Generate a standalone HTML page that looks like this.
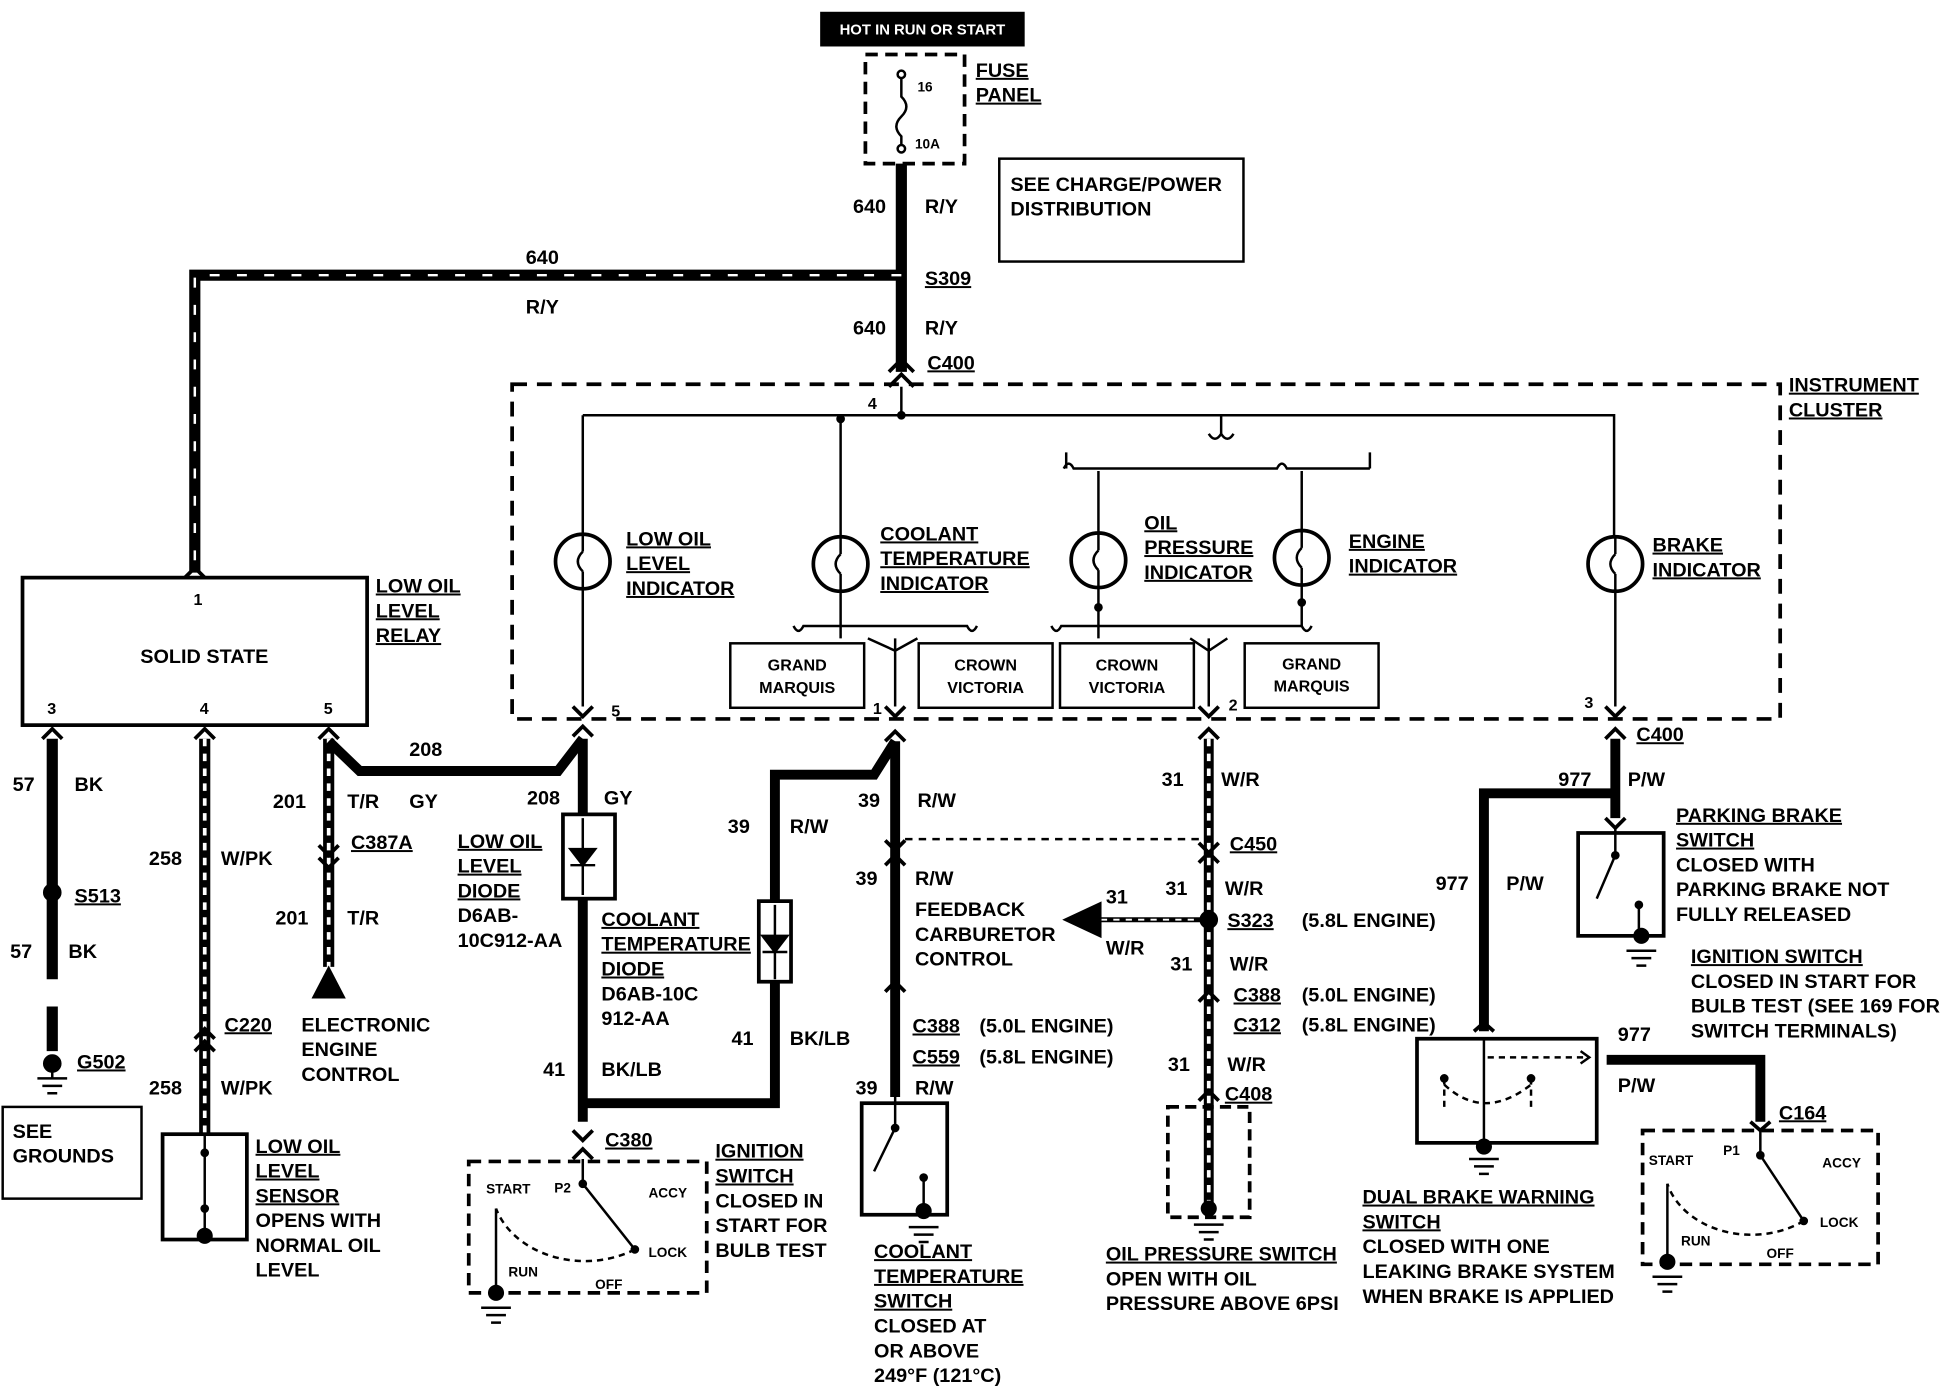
<!DOCTYPE html>
<html><head><meta charset="utf-8"><style>
html,body{margin:0;padding:0;background:#fff}
svg{display:block}
text{font-family:"Liberation Sans",sans-serif;font-weight:bold;font-size:16px;fill:#000}
.u{text-decoration:underline}
.s{font-size:13px}
.t{font-size:11px}
</style></head><body>
<svg width="1944" height="1392" viewBox="0 0 1568 1123" xmlns="http://www.w3.org/2000/svg">
<g fill="none" stroke="#000">
<rect x="662" y="10" width="164" height="27" fill="#000"/>
<rect x="698" y="44" width="80" height="88" stroke-width="3" stroke-dasharray="10,6"/>
<path d="M727 60 V78 q8 8 0 16 q-8 8 0 16 V120" stroke-width="2"/>
<circle cx="727" cy="60" r="3" fill="#fff" stroke-width="2"/>
<circle cx="727" cy="120" r="3" fill="#fff" stroke-width="2"/>
<rect x="806" y="128" width="197" height="83" stroke-width="2"/>
<path d="M727 132 V300" stroke-width="9"/>
<path d="M727 222 H157 V462" stroke-width="9"/>
<path d="M727 222 H157 V462" stroke="#fff" stroke-width="2" stroke-dasharray="8,14"/>
<path d="M717 300 L727 290 L737 300" stroke-width="3"/>
<path d="M717 312 L727 302 L737 312" stroke-width="3"/>
<path d="M727 312 V335" stroke-width="2"/>
<path d="M149 466 L157 458 L165 466" stroke-width="3"/>
<rect x="18" y="466" width="278" height="119" stroke-width="3"/>
<rect x="413" y="310" width="1023" height="270" stroke-width="3" stroke-dasharray="12,8"/>
<path d="M470 335 H1302 V433 M470 335 V431 M678 335 V433 M886 380 V430 M1050 380 V428" stroke-width="2"/>
<path d="M470 475 V570 M678 477 V505 M886 474 V505 M1050 472 V505 M1303 477 V570" stroke-width="2"/>
<path d="M858 378 q4-8 8 0 H1030 q4-8 8 0 H1105 M985 335 V350 M975 350 q5 8 10 0 q5 8 10 0" stroke-width="2"/>
<path d="M860 378 V365 M1105 378 V365" stroke-width="2"/>
<circle cx="678" cy="338" r="3" fill="#000"/><circle cx="727" cy="335" r="3" fill="#000"/>
<circle cx="886" cy="490" r="3" fill="#000"/><circle cx="1050" cy="486" r="3" fill="#000"/>
<g stroke-width="3">
<circle cx="470" cy="453" r="22"/><circle cx="678" cy="455" r="22"/><circle cx="886" cy="452" r="22"/><circle cx="1050" cy="450" r="22"/><circle cx="1303" cy="455" r="22"/>
</g>
<g stroke-width="2">
<path d="M470 445 q-8 8 0 16 M678 447 q-8 8 0 16 M886 444 q-8 8 0 16 M1050 442 q-8 8 0 16 M1303 447 q-8 8 0 16"/>
<path d="M470 431 V445 M470 461 V475 M678 433 V447 M678 463 V477 M886 430 V444 M886 460 V474 M1050 428 V442 M1050 458 V472 M1303 433 V447 M1303 463 V477"/>
<path d="M640 505 q4 8 8 0 H780 q4 8 8 0 M848 505 q4 8 8 0 H1050 q4 8 8 0 M678 505 V515 M722 515 V570 M886 505 V515 M975 515 V570 M700 515 L722 525 L740 515 M960 515 L975 525 L990 515"/>
</g>
<g stroke-width="2">
<rect x="589" y="519" width="108" height="52"/><rect x="741" y="519" width="108" height="52"/><rect x="855" y="519" width="108" height="52"/><rect x="1004" y="519" width="108" height="52"/>
</g>
<g stroke-width="3">
<path d="M462 570 L470 578 L478 570 M714 570 L722 578 L730 570 M967 570 L975 578 L983 570 M1295 570 L1303 578 L1311 570"/>
<path d="M462 594 L470 586 L478 594 M714 598 L722 590 L730 598 M967 596 L975 588 L983 596 M1295 596 L1303 588 L1311 596 M34 596 L42 588 L50 596 M157 596 L165 588 L173 596 M257 596 L265 588 L273 596"/>
</g>
<path d="M42 596 V790 M42 812 V848" stroke-width="9"/>
<circle cx="42" cy="720" r="7" fill="#000"/>
<circle cx="42" cy="858" r="7" fill="#000"/>
<path d="M30 870 H54 M34 876 H50 M38 882 H46 M42 865 V870" stroke-width="2"/>
<rect x="2" y="893" width="112" height="74" stroke-width="2"/>
<path d="M165 596 V915" stroke-width="9"/>
<path d="M165 596 V915" stroke="#fff" stroke-width="3" stroke-dasharray="6,6"/>
<path d="M157 838 L165 830 L173 838 M157 848 L165 840 L173 848" stroke-width="3"/>
<rect x="131" y="915" width="68" height="85" stroke-width="3"/>
<path d="M165 915 V995" stroke-width="2"/>
<circle cx="165" cy="930" r="3" fill="#000"/><circle cx="165" cy="975" r="3" fill="#000"/><circle cx="165" cy="997" r="6" fill="#000"/>
<path d="M265 596 V780" stroke-width="9"/>
<path d="M265 596 V780" stroke="#fff" stroke-width="3" stroke-dasharray="6,6"/>
<path d="M257 682 L265 690 L273 682 M257 692 L265 700 L273 692" stroke-width="3"/>
<path d="M252 805 L265 780 L278 805 Z" fill="#000"/>
<path d="M265 598 L290 622 H450 L470 596" stroke-width="8"/>
<path d="M470 596 V905" stroke-width="8"/>
<rect x="454" y="657" width="42" height="68" fill="#fff" stroke-width="3"/>
<path d="M470 660 V722 M460 685 H480 L470 698 Z M460 698 H480" stroke-width="2" fill="#000"/>
<path d="M470 890 L488 890 H625 V625 H705 L722 598" stroke-width="8"/>
<rect x="612" y="727" width="26" height="65" fill="#fff" stroke-width="3"/>
<path d="M625 730 V790 M615 755 H635 L625 768 Z M615 768 H635" stroke-width="2" fill="#000"/>
<path d="M462 912 L470 920 L478 912 M462 935 L470 927 L478 935" stroke-width="3"/>
<rect x="378" y="937" width="192" height="106" stroke-width="3" stroke-dasharray="10,6"/>
<path d="M470 935 V955 L512 1008 M400 975 V1040" stroke-width="2"/>
<path d="M512 1008 A75 60 0 0 1 400 975" stroke-width="2" stroke-dasharray="5,4"/>
<circle cx="470" cy="955" r="3" fill="#000"/><circle cx="512" cy="1008" r="3" fill="#000"/>
<circle cx="400" cy="1043" r="6" fill="#000"/>
<path d="M388 1055 H412 M392 1061 H408 M396 1067 H404" stroke-width="2"/>
<path d="M722 598 V885" stroke-width="8"/>
<path d="M714 678 L722 686 L730 678 M714 698 L722 690 L730 698 M714 800 L722 792 L730 800" stroke-width="3"/>
<path d="M730 677 H972" stroke-width="2" stroke-dasharray="6,5"/>
<rect x="695" y="890" width="69" height="90" stroke-width="3"/>
<path d="M722 885 V910 L705 945 M745 950 V975" stroke-width="2"/>
<circle cx="722" cy="910" r="3" fill="#000"/><circle cx="745" cy="950" r="3" fill="#000"/><circle cx="745" cy="977" r="6" fill="#000"/>
<path d="M733 990 H757 M737 996 H753 M741 1002 H749" stroke-width="2"/>
<path d="M975 596 V972" stroke-width="8"/>
<path d="M975 596 V972" stroke="#fff" stroke-width="3" stroke-dasharray="6,6"/>
<path d="M967 680 L975 688 L983 680 M967 696 L975 688 L983 696 M967 808 L975 800 L983 808 M967 888 L975 880 L983 888" stroke-width="3"/>
<circle cx="975" cy="742" r="7" fill="#000"/>
<path d="M888 742 H968" stroke-width="4"/>
<path d="M888 742 H968" stroke="#fff" stroke-width="1.5" stroke-dasharray="5,5"/>
<path d="M858 742 L888 728 L888 756 Z" fill="#000"/>
<rect x="942" y="893" width="66" height="89" stroke-width="3" stroke-dasharray="9,5"/>
<circle cx="975" cy="975" r="6" fill="#000"/>
<path d="M963 988 H987 M967 994 H983 M971 1000 H979" stroke-width="2"/>
<path d="M1303 596 V660" stroke-width="8"/>
<path d="M1295 660 L1303 668 L1311 660" stroke-width="3"/>
<path d="M1303 640 H1197 V832" stroke-width="8"/>
<path d="M1189 832 L1197 825 L1205 832" stroke-width="3"/>
<rect x="1273" y="672" width="69" height="83" stroke-width="3"/>
<path d="M1303 668 V690 L1288 725 M1322 730 V755" stroke-width="2"/>
<circle cx="1303" cy="690" r="3" fill="#000"/><circle cx="1322" cy="730" r="3" fill="#000"/><circle cx="1324" cy="755" r="6" fill="#000"/>
<path d="M1312 767 H1336 M1316 773 H1332 M1320 779 H1328" stroke-width="2"/>
<rect x="1143" y="838" width="145" height="84" stroke-width="3"/>
<path d="M1197 838 V920" stroke-width="2"/>
<path d="M1165 870 V895 M1235 870 V895 M1165 875 Q1197 905 1235 875 M1200 853 H1282" stroke-width="2" stroke-dasharray="5,4"/>
<path d="M1275 848 L1282 853 L1275 858" stroke-width="2"/>
<circle cx="1165" cy="870" r="3" fill="#000"/><circle cx="1235" cy="870" r="3" fill="#000"/>
<circle cx="1197" cy="925" r="6" fill="#000"/>
<path d="M1185 935 H1209 M1189 941 H1205 M1193 947 H1201" stroke-width="2"/>
<path d="M1296 855 H1420 V905" stroke-width="8"/>
<path d="M1412 905 L1420 912 L1428 905" stroke-width="3"/>
<rect x="1325" y="912" width="190" height="108" stroke-width="3" stroke-dasharray="10,6"/>
<path d="M1420 912 V932 L1455 985 M1345 955 V1015" stroke-width="2"/>
<path d="M1455 985 A70 55 0 0 1 1345 955" stroke-width="2" stroke-dasharray="5,4"/>
<circle cx="1420" cy="932" r="3" fill="#000"/><circle cx="1455" cy="985" r="3" fill="#000"/><circle cx="1345" cy="1018" r="6" fill="#000"/>
<path d="M1333 1030 H1357 M1337 1036 H1353 M1341 1042 H1349" stroke-width="2"/>
</g>
<text x="744" y="28" text-anchor="middle" style="fill:#fff;font-size:12px">HOT IN RUN OR START</text>
<text x="740" y="74" class="t">16</text><text x="738" y="120" class="t">10A</text>
<text x="787" y="62" class="u">FUSE</text><text x="787" y="82" class="u">PANEL</text>
<text x="815" y="154">SEE CHARGE/POWER</text><text x="815" y="174">DISTRIBUTION</text>
<text x="688" y="172">640</text><text x="746" y="172">R/Y</text>
<text x="746" y="230" class="u">S309</text>
<text x="688" y="270">640</text><text x="746" y="270">R/Y</text>
<text x="748" y="298" class="u">C400</text>
<text x="424" y="213">640</text><text x="424" y="253">R/Y</text>
<text x="700" y="330" class="s">4</text>
<text x="1443" y="316" class="u">INSTRUMENT</text><text x="1443" y="336" class="u">CLUSTER</text>
<text x="156" y="488" class="s">1</text>
<text x="113" y="535">SOLID STATE</text>
<text x="38" y="576" class="s">3</text><text x="161" y="576" class="s">4</text><text x="261" y="576" class="s">5</text>
<text x="303" y="478" class="u">LOW OIL</text><text x="303" y="498" class="u">LEVEL</text><text x="303" y="518" class="u">RELAY</text>
<text x="505" y="440" class="u">LOW OIL</text><text x="505" y="460" class="u">LEVEL</text><text x="505" y="480" class="u">INDICATOR</text>
<text x="710" y="436" class="u">COOLANT</text><text x="710" y="456" class="u">TEMPERATURE</text><text x="710" y="476" class="u">INDICATOR</text>
<text x="923" y="427" class="u">OIL</text><text x="923" y="447" class="u">PRESSURE</text><text x="923" y="467" class="u">INDICATOR</text>
<text x="1088" y="442" class="u">ENGINE</text><text x="1088" y="462" class="u">INDICATOR</text>
<text x="1333" y="445" class="u">BRAKE</text><text x="1333" y="465" class="u">INDICATOR</text>
<text x="643" y="541" class="s" text-anchor="middle">GRAND</text><text x="643" y="559" class="s" text-anchor="middle">MARQUIS</text>
<text x="795" y="541" class="s" text-anchor="middle">CROWN</text><text x="795" y="559" class="s" text-anchor="middle">VICTORIA</text>
<text x="909" y="541" class="s" text-anchor="middle">CROWN</text><text x="909" y="559" class="s" text-anchor="middle">VICTORIA</text>
<text x="1058" y="540" class="s" text-anchor="middle">GRAND</text><text x="1058" y="558" class="s" text-anchor="middle">MARQUIS</text>
<text x="493" y="578" class="s">5</text><text x="704" y="576" class="s">1</text><text x="991" y="573" class="s">2</text><text x="1278" y="571" class="s">3</text>
<text x="10" y="638">57</text><text x="60" y="638">BK</text>
<text x="60" y="728" class="u">S513</text>
<text x="8" y="773">57</text><text x="55" y="773">BK</text>
<text x="62" y="862" class="u">G502</text>
<text x="10" y="918">SEE</text><text x="10" y="938">GROUNDS</text>
<text x="120" y="698">258</text><text x="178" y="698">W/PK</text>
<text x="181" y="832" class="u">C220</text>
<text x="120" y="883">258</text><text x="178" y="883">W/PK</text>
<text x="206" y="930" class="u">LOW OIL</text><text x="206" y="950" class="u">LEVEL</text><text x="206" y="970" class="u">SENSOR</text><text x="206" y="990">OPENS WITH</text><text x="206" y="1010">NORMAL OIL</text><text x="206" y="1030">LEVEL</text>
<text x="220" y="652">201</text><text x="280" y="652">T/R</text>
<text x="330" y="610">208</text><text x="330" y="652">GY</text>
<text x="283" y="685" class="u">C387A</text>
<text x="222" y="746">201</text><text x="280" y="746">T/R</text>
<text x="243" y="832">ELECTRONIC</text><text x="243" y="852">ENGINE</text><text x="243" y="872">CONTROL</text>
<text x="425" y="649">208</text><text x="487" y="649">GY</text>
<text x="369" y="684" class="u">LOW OIL</text><text x="369" y="704" class="u">LEVEL</text><text x="369" y="724" class="u">DIODE</text><text x="369" y="744">D6AB-</text><text x="369" y="764">10C912-AA</text>
<text x="485" y="747" class="u">COOLANT</text><text x="485" y="767" class="u">TEMPERATURE</text><text x="485" y="787" class="u">DIODE</text><text x="485" y="807">D6AB-10C</text><text x="485" y="827">912-AA</text>
<text x="587" y="672">39</text><text x="637" y="672">R/W</text>
<text x="590" y="843">41</text><text x="637" y="843">BK/LB</text>
<text x="438" y="868">41</text><text x="485" y="868">BK/LB</text>
<text x="488" y="925" class="u">C380</text>
<text x="392" y="963" class="t">START</text><text x="447" y="962" class="t">P2</text><text x="523" y="966" class="t">ACCY</text><text x="523" y="1014" class="t">LOCK</text><text x="410" y="1030" class="t">RUN</text><text x="480" y="1040" class="t">OFF</text>
<text x="577" y="934" class="u">IGNITION</text><text x="577" y="954" class="u">SWITCH</text><text x="577" y="974">CLOSED IN</text><text x="577" y="994">START FOR</text><text x="577" y="1014">BULB TEST</text>
<text x="692" y="651">39</text><text x="740" y="651">R/W</text>
<text x="690" y="714">39</text><text x="738" y="714">R/W</text>
<text x="738" y="739">FEEDBACK</text><text x="738" y="759">CARBURETOR</text><text x="738" y="779">CONTROL</text>
<text x="736" y="833" class="u">C388</text><text x="790" y="833">(5.0L ENGINE)</text>
<text x="736" y="858" class="u">C559</text><text x="790" y="858">(5.8L ENGINE)</text>
<text x="690" y="883">39</text><text x="738" y="883">R/W</text>
<text x="705" y="1015" class="u">COOLANT</text><text x="705" y="1035" class="u">TEMPERATURE</text><text x="705" y="1055" class="u">SWITCH</text><text x="705" y="1075">CLOSED AT</text><text x="705" y="1095">OR ABOVE</text><text x="705" y="1115">249°F (121°C)</text>
<text x="937" y="634">31</text><text x="985" y="634">W/R</text>
<text x="992" y="686" class="u">C450</text>
<text x="940" y="722">31</text><text x="988" y="722">W/R</text>
<text x="892" y="729">31</text><text x="892" y="770">W/R</text>
<text x="990" y="748" class="u">S323</text><text x="1050" y="748">(5.8L ENGINE)</text>
<text x="944" y="783">31</text><text x="992" y="783">W/R</text>
<text x="995" y="808" class="u">C388</text><text x="1050" y="808">(5.0L ENGINE)</text>
<text x="995" y="832" class="u">C312</text><text x="1050" y="832">(5.8L ENGINE)</text>
<text x="942" y="864">31</text><text x="990" y="864">W/R</text>
<text x="988" y="888" class="u">C408</text>
<text x="892" y="1017" class="u">OIL PRESSURE SWITCH</text><text x="892" y="1037">OPEN WITH OIL</text><text x="892" y="1057">PRESSURE ABOVE 6PSI</text>
<text x="1257" y="634">977</text><text x="1313" y="634">P/W</text>
<text x="1320" y="598" class="u">C400</text>
<text x="1352" y="663" class="u">PARKING BRAKE</text><text x="1352" y="683" class="u">SWITCH</text><text x="1352" y="703">CLOSED WITH</text><text x="1352" y="723">PARKING BRAKE NOT</text><text x="1352" y="743">FULLY RELEASED</text>
<text x="1158" y="718">977</text><text x="1215" y="718">P/W</text>
<text x="1364" y="777" class="u">IGNITION SWITCH</text><text x="1364" y="797">CLOSED IN START FOR</text><text x="1364" y="817">BULB TEST (SEE 169 FOR</text><text x="1364" y="837">SWITCH TERMINALS)</text>
<text x="1305" y="840">977</text><text x="1305" y="881">P/W</text>
<text x="1435" y="903" class="u">C164</text>
<text x="1330" y="940" class="t">START</text><text x="1390" y="932" class="t">P1</text><text x="1470" y="942" class="t">ACCY</text><text x="1468" y="990" class="t">LOCK</text><text x="1356" y="1005" class="t">RUN</text><text x="1425" y="1015" class="t">OFF</text>
<text x="1099" y="971" class="u">DUAL BRAKE WARNING</text><text x="1099" y="991" class="u">SWITCH</text><text x="1099" y="1011">CLOSED WITH ONE</text><text x="1099" y="1031">LEAKING BRAKE SYSTEM</text><text x="1099" y="1051">WHEN BRAKE IS APPLIED</text>
</svg>
</body></html>
